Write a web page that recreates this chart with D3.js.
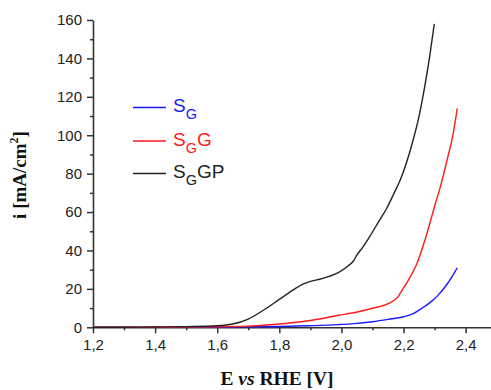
<!DOCTYPE html>
<html>
<head>
<meta charset="utf-8">
<script src="https://cdn.jsdelivr.net/npm/d3@7"></script>
<style>
  body { margin: 0; background: #fff; }
  svg { display: block; }
</style>
</head>
<body>
<div id="chart"></div>
<script>
// potential E (V vs RHE) and current density i (mA/cm2)
const sgE = [1.20, 1.60, 1.80, 1.89, 1.99, 2.04, 2.10, 2.15, 2.20, 2.23, 2.26, 2.29, 2.31, 2.34, 2.373];
const sgI = [0, 0.1, 0.4, 0.8, 1.4, 1.9, 2.9, 4.1, 5.5, 7.0, 10.0, 13.5, 16.5, 22.4, 31];

const sggE = [1.20, 1.40, 1.60, 1.70, 1.76, 1.87, 1.93, 1.99, 2.04, 2.10, 2.15, 2.183, 2.188, 2.21, 2.245, 2.27, 2.30, 2.32, 2.34, 2.36, 2.373];
const sggI = [0, 0.05, 0.3, 0.6, 1.2, 2.9, 4.3, 6.3, 7.6, 9.9, 12.3, 16.0, 17.4, 23, 34, 46, 63, 74, 87, 101, 114];

const sggpE = [1.20, 1.30, 1.40, 1.50, 1.60, 1.65, 1.70, 1.75, 1.80, 1.85, 1.87, 1.91, 1.93, 1.96, 1.99, 2.02, 2.04, 2.046, 2.07, 2.09, 2.12, 2.146, 2.17, 2.19, 2.23, 2.25, 2.27, 2.285, 2.299];
const sggpI = [0, 0.05, 0.15, 0.35, 0.8, 1.7, 4.3, 9, 14.5, 20, 22, 24.3, 25, 26.5, 28.5, 31.8, 34.8, 36.6, 42, 47, 55, 62, 70, 77, 97, 110, 127, 142, 158];

const seriesNames = ["S|G", "S|GG", "S|GGP"]; // "|" splits base and subscript
const seriesColors = ["#1a1aff", "#ff1a1a", "#222222"];

const xTicks = [1.2, 1.4, 1.6, 1.8, 2.0, 2.2, 2.4];
const yTicks = [0, 20, 40, 60, 80, 100, 120, 140, 160];

const width = 491, height = 390;

const svg = d3.select("#chart").append("svg")
    .attr("width", width)
    .attr("height", height);

const x = d3.scaleLinear().domain([1.2, 2.48]).range([93, 490.5]);
const y = d3.scaleLinear().domain([0, 160]).range([327.3, 20]);

const comma = v => d3.format(".1f")(v).replace(".", ",");
const axisColor = "#333";

// minor ticks first, then the labelled axis on top
svg.append("g")
    .attr("transform", `translate(0,${y(0)})`)
    .call(d3.axisBottom(x).tickValues(d3.range(1.3, 2.45, 0.2)).tickSize(3).tickFormat(""))
    .call(g => g.select(".domain").remove());

svg.append("g")
    .attr("transform", `translate(${x(1.2)},0)`)
    .call(d3.axisLeft(y).tickValues(d3.range(10, 160, 20)).tickSize(3).tickFormat(""))
    .call(g => g.select(".domain").remove());

const xAxis = svg.append("g")
    .attr("transform", `translate(0,${y(0)})`)
    .call(d3.axisBottom(x).tickValues(xTicks).tickSize(6).tickSizeOuter(0).tickPadding(6).tickFormat(comma));

const yAxis = svg.append("g")
    .attr("transform", `translate(${x(1.2)},0)`)
    .call(d3.axisLeft(y).tickValues(yTicks).tickSize(6).tickSizeOuter(0).tickPadding(5));

svg.selectAll(".tick line").attr("stroke", axisColor).attr("stroke-width", 1.5);
svg.selectAll(".domain").attr("stroke", axisColor).attr("stroke-width", 1.6);
svg.selectAll(".tick text")
    .attr("fill", "#222")
    .style("font-family", "'Liberation Sans', Arial, sans-serif")
    .style("font-size", "15px");

// curves
const line = d3.line()
    .x(d => x(d[0]))
    .y(d => y(d[1]))
    .curve(d3.curveMonotoneX);

const allSeries = [
    d3.zip(sgE, sgI),
    d3.zip(sggE, sggI),
    d3.zip(sggpE, sggpI)
];

svg.append("g").selectAll("path")
    .data(allSeries)
    .join("path")
    .attr("d", line)
    .attr("fill", "none")
    .attr("stroke", (d, i) => seriesColors[i])
    .attr("stroke-width", 1.4);

// legend
const legendY = [107.5, 141, 173.5];
const legend = svg.append("g").selectAll("g")
    .data(seriesNames)
    .join("g")
    .attr("transform", (d, i) => `translate(0,${legendY[i]})`);

legend.append("line")
    .attr("x1", 133).attr("x2", 166)
    .attr("stroke", (d, i) => seriesColors[i])
    .attr("stroke-width", 1.4);

legend.append("text")
    .attr("x", 173)
    .attr("y", 4.5)
    .attr("fill", (d, i) => seriesColors[i])
    .style("font-family", "'Liberation Sans', Arial, sans-serif")
    .style("font-size", "19px")
    .each(function(d) {
        const parts = d.split("|");
        const t = d3.select(this);
        t.append("tspan").text(parts[0].slice(0, 1));
        t.append("tspan").attr("dy", 7).style("font-size", "14.5px").text(parts[1].slice(0, 1));
        if (parts[1].length > 1) t.append("tspan").attr("dy", -7).text(parts[1].slice(1));
    });

// axis titles
svg.append("text")
    .attr("x", 277)
    .attr("y", 385)
    .attr("text-anchor", "middle")
    .style("font-family", "'Liberation Serif', 'Times New Roman', serif")
    .style("font-weight", "bold")
    .style("font-size", "19.5px")
    .attr("fill", "#111")
    .call(t => {
        t.append("tspan").text("E ");
        t.append("tspan").style("font-style", "italic").text("vs");
        t.append("tspan").text(" RHE [V]");
    });

svg.append("text")
    .attr("transform", "translate(26,175) rotate(-90)")
    .attr("text-anchor", "middle")
    .style("font-family", "'Liberation Serif', 'Times New Roman', serif")
    .style("font-weight", "bold")
    .style("font-size", "19px")
    .attr("fill", "#111")
    .call(t => {
        t.append("tspan").text("i [mA/cm");
        t.append("tspan").attr("dy", -8).style("font-size", "12px").text("2");
        t.append("tspan").attr("dy", 8).text("]");
    });
</script>
</body>
</html>
